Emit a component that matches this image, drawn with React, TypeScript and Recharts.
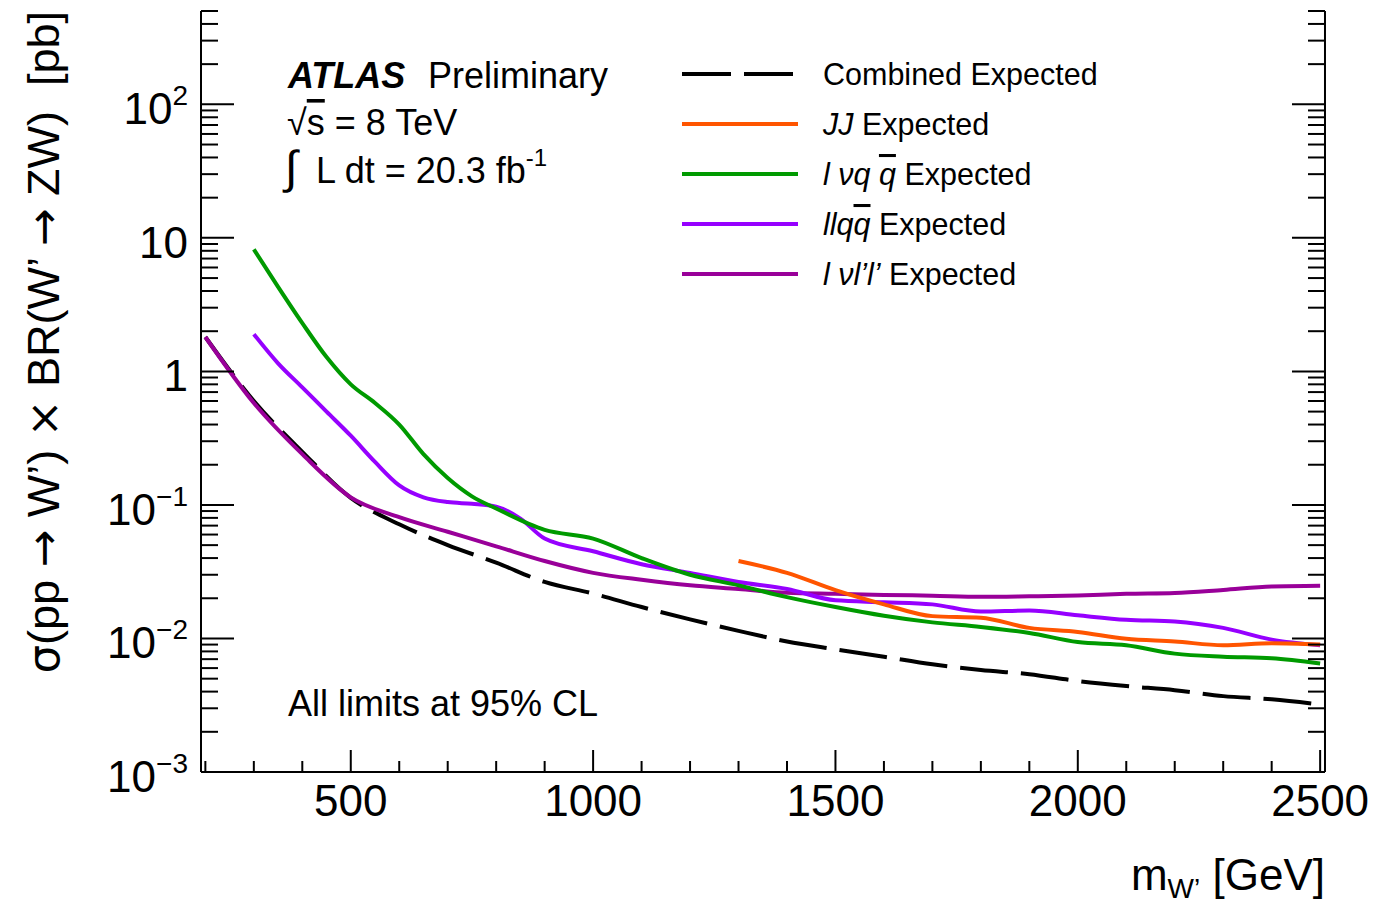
import { LineChart, Line, XAxis, YAxis } from "recharts";

// expected 95% CL limits on sigma x BR [pb] vs W' mass [GeV]
const massCombined = [200, 300, 400, 500, 600, 700, 800, 900, 1000, 1100, 1200, 1300, 1400, 1500, 1600, 1700, 1800, 1900, 2000, 2100, 2200, 2300, 2400, 2500];
const combinedExpected = [1.81, 0.6, 0.25, 0.113, 0.0716, 0.05, 0.037, 0.0265, 0.0217, 0.0172, 0.0139, 0.0114, 0.0095, 0.0083, 0.0073, 0.0064, 0.0058, 0.0054, 0.0048, 0.0044, 0.0041, 0.0037, 0.0035, 0.0032];

const massJJ = [1300, 1400, 1500, 1600, 1700, 1800, 1900, 2000, 2100, 2200, 2300, 2400, 2500];
const jjExpected = [0.038, 0.031, 0.023, 0.018, 0.0147, 0.0143, 0.012, 0.0112, 0.00995, 0.0095, 0.0089, 0.0092, 0.009];

const massLvqq = [300, 350, 400, 450, 500, 550, 600, 650, 700, 750, 800, 900, 1000, 1100, 1200, 1300, 1400, 1500, 1600, 1700, 1800, 1900, 2000, 2100, 2200, 2300, 2400, 2500];
const lvqqExpected = [8.2, 4.3, 2.3, 1.28, 0.8, 0.58, 0.4, 0.24, 0.159, 0.116, 0.094, 0.065, 0.056, 0.04, 0.03, 0.025, 0.0204, 0.0172, 0.0148, 0.0132, 0.0122, 0.011, 0.0094, 0.0089, 0.0077, 0.0073, 0.0071, 0.0065];

const massLlqq = [300, 350, 400, 450, 500, 550, 600, 650, 700, 750, 800, 850, 900, 1000, 1100, 1200, 1300, 1400, 1500, 1600, 1700, 1800, 1900, 2000, 2100, 2200, 2300, 2400, 2500];
const llqqExpected = [1.9, 1.15, 0.76, 0.5, 0.33, 0.21, 0.14, 0.114, 0.105, 0.102, 0.097, 0.079, 0.056, 0.045, 0.036, 0.031, 0.0265, 0.0235, 0.0193, 0.0187, 0.018, 0.0159, 0.0162, 0.0149, 0.0138, 0.0134, 0.012, 0.0098, 0.0089];

const massLvll = [200, 300, 400, 500, 600, 700, 800, 900, 1000, 1100, 1200, 1300, 1400, 1500, 1600, 1700, 1800, 1900, 2000, 2100, 2200, 2300, 2400, 2500];
const lvllExpected = [1.81, 0.58, 0.24, 0.114, 0.081, 0.063, 0.049, 0.038, 0.031, 0.0275, 0.025, 0.0235, 0.022, 0.0216, 0.0212, 0.0209, 0.0205, 0.0207, 0.021, 0.0216, 0.0219, 0.0231, 0.0245, 0.0248];

const xMajorTicks = [500, 1000, 1500, 2000, 2500];
const xTicks = [200, 300, 400, 500, 600, 700, 800, 900, 1000, 1100, 1200, 1300, 1400, 1500, 1600, 1700, 1800, 1900, 2000, 2100, 2200, 2300, 2400, 2500];

const yMajorTicks = [0.001, 0.01, 0.1, 1, 10, 100];
const yTickBase = ["10", "10", "10", "1", "10", "10"];
const yTickExp = ["\u22123", "\u22122", "\u22121", "", "", "2"];

const X_DOMAIN: [number, number] = [191, 2510];
const Y_DOMAIN: [number, number] = [0.001, 500];

// minor ticks 2..9 in every decade, up to the top of the frame
const yTicks: number[] = [];
yMajorTicks.forEach((d) => {
  for (let k = 1; k <= 9; k++) {
    const v = +(d * k).toPrecision(6);
    if (v <= Y_DOMAIN[1]) yTicks.push(v);
  }
});

const toPoints = (ms: number[], vs: number[]) => ms.map((m, i) => ({ m, v: vs[i] }));

const series = [
  { name: "combined", data: toPoints(massCombined, combinedExpected), color: "#000000", dash: "48 13" },
  { name: "lvll", data: toPoints(massLvll, lvllExpected), color: "#990099" },
  { name: "llqq", data: toPoints(massLlqq, llqqExpected), color: "#9600ff" },
  { name: "lvqq", data: toPoints(massLvqq, lvqqExpected), color: "#009a00" },
  { name: "jj", data: toPoints(massJJ, jjExpected), color: "#ff5500" },
];

const FONT = "'Liberation Sans', Arial, Helvetica, sans-serif";
const SYM = "'DejaVu Sans', sans-serif";

const majorIndex = (v: number) => yMajorTicks.findIndex((m) => Math.abs(m - v) / m < 1e-6);

function LeftTick(props: any) {
  const { x, y, payload } = props;
  const i = majorIndex(payload.value);
  const major = i >= 0;
  return (
    <g>
      <line x1={x} x2={x + (major ? 33 : 17)} y1={y} y2={y} stroke="#000" strokeWidth={2} />
      {major && (
        <text x={x - 13} y={y + 20} textAnchor="end" fontSize={44} fill="#000">
          {yTickBase[i]}
          {yTickExp[i] && (
            <tspan dy={-19} fontSize={28}>
              {yTickExp[i]}
            </tspan>
          )}
        </text>
      )}
    </g>
  );
}

function RightTick(props: any) {
  const { x, y, payload } = props;
  const major = majorIndex(payload.value) >= 0;
  return <line x1={x} x2={x - (major ? 33 : 17)} y1={y} y2={y} stroke="#000" strokeWidth={2} />;
}

function BottomTick(props: any) {
  const { x, y, payload } = props;
  const major = xMajorTicks.includes(payload.value);
  return (
    <g>
      <line x1={x} x2={x} y1={y} y2={y - (major ? 22 : 11)} stroke="#000" strokeWidth={2} />
      {major && (
        <text x={x} y={y + 44} textAnchor="middle" fontSize={44} fill="#000">
          {payload.value}
        </text>
      )}
    </g>
  );
}

function TopTick(props: any) {
  const { x, y, payload } = props;
  const major = xMajorTicks.includes(payload.value);
  return <line x1={x} x2={x} y1={y} y2={y + (major ? 22 : 11)} stroke="#000" strokeWidth={2} />;
}

const legendRows = [
  { y: 74, color: "#000000", dash: "49 13" },
  { y: 124, color: "#ff5500" },
  { y: 174, color: "#009a00" },
  { y: 224, color: "#9600ff" },
  { y: 274, color: "#990099" },
];

const ob = { textDecoration: "overline" } as const;

function Overlay() {
  return (
    <svg width={1376} height={903} style={{ position: "absolute", left: 0, top: 0, pointerEvents: "none", fontFamily: FONT }}>
      {/* ATLAS label block */}
      <text x={288} y={88} fontSize={36} fontWeight="bold" fontStyle="italic">ATLAS</text>
      <text x={428} y={88} fontSize={36}>Preliminary</text>
      <text x={287} y={135} fontSize={36}>
        {"\u221A"}
        <tspan style={ob}>s</tspan> = 8 TeV
      </text>
      <text x={285} y={183} fontSize={46}>{"\u222B"}</text>
      <text x={316} y={183} fontSize={36}>
        L dt = 20.3 fb<tspan dy={-17} fontSize={24}>-1</tspan>
      </text>
      <text x={288} y={716} fontSize={36}>All limits at 95% CL</text>

      {/* legend */}
      {legendRows.map((r) => (
        <line key={r.y} x1={682} x2={798} y1={r.y} y2={r.y} stroke={r.color} strokeWidth={4} strokeDasharray={r.dash} />
      ))}
      <g fontSize={30.5}>
        <text x={823} y={85}>Combined Expected</text>
        <text x={823} y={135}>
          <tspan fontStyle="italic">JJ</tspan> Expected
        </text>
        <text x={823} y={185} style={{ whiteSpace: "pre" }}>
          <tspan fontStyle="italic">{"l \u03BDq "}</tspan>
          <tspan fontStyle="italic" style={ob}>q</tspan> Expected
        </text>
        <text x={823} y={235}>
          <tspan fontStyle="italic">llq</tspan>
          <tspan fontStyle="italic" style={ob}>q</tspan> Expected
        </text>
        <text x={823} y={285} style={{ whiteSpace: "pre" }}>
          <tspan fontStyle="italic">{"l \u03BDl\u2019l\u2019"}</tspan> Expected
        </text>
      </g>

      {/* axis titles */}
      <text x={1325} y={890} textAnchor="end" fontSize={44}>
        m<tspan fontSize={28} dy={8}>W{"\u2019"}</tspan>
        <tspan dy={-8}> [GeV]</tspan>
      </text>
      <text
        transform="translate(59,11) rotate(-90)"
        textAnchor="end"
        fontSize={45}
        style={{ whiteSpace: "pre" }}
      >
        <tspan fontFamily={SYM}>{"\u03C3"}</tspan>
        {"(pp "}
        <tspan fontFamily={SYM}>{"\u2192"}</tspan>
        {" W\u2019) "}
        <tspan fontFamily={SYM}>{"\u00D7"}</tspan>
        {" BR(W\u2019 "}
        <tspan fontFamily={SYM}>{"\u2192"}</tspan>
        {" ZW)  [pb]"}
      </text>
    </svg>
  );
}

export default function App() {
  return (
    <div style={{ position: "absolute", left: 0, top: 0, width: 1376, height: 903, background: "#fff", fontFamily: FONT }}>
      <LineChart width={1376} height={903} margin={{ top: 11, right: 51, bottom: 51, left: 101 }}>
        <XAxis
          xAxisId="b"
          dataKey="m"
          type="number"
          domain={X_DOMAIN}
          allowDataOverflow
          ticks={xTicks}
          interval={0}
          height={80}
          tickSize={0}
          tickMargin={0}
          tickLine={false}
          axisLine={{ stroke: "#000", strokeWidth: 2 }}
          tick={<BottomTick />}
        />
        <XAxis
          xAxisId="t"
          orientation="top"
          dataKey="m"
          type="number"
          domain={X_DOMAIN}
          allowDataOverflow
          ticks={xTicks}
          interval={0}
          height={0}
          tickSize={0}
          tickMargin={0}
          tickLine={false}
          axisLine={{ stroke: "#000", strokeWidth: 2 }}
          tick={<TopTick />}
        />
        <YAxis
          yAxisId="l"
          dataKey="v"
          type="number"
          scale="log"
          domain={Y_DOMAIN}
          allowDataOverflow
          ticks={yTicks}
          interval={0}
          width={100}
          tickSize={0}
          tickMargin={0}
          tickLine={false}
          axisLine={{ stroke: "#000", strokeWidth: 2 }}
          tick={<LeftTick />}
        />
        <YAxis
          yAxisId="r"
          orientation="right"
          dataKey="v"
          type="number"
          scale="log"
          domain={Y_DOMAIN}
          allowDataOverflow
          ticks={yTicks}
          interval={0}
          width={0.01}
          tickSize={0}
          tickMargin={0}
          tickLine={false}
          axisLine={{ stroke: "#000", strokeWidth: 2 }}
          tick={<RightTick />}
        />
        {series.map((s) => (
          <Line
            key={s.name}
            xAxisId="b"
            yAxisId="l"
            data={s.data}
            dataKey="v"
            type="monotone"
            stroke={s.color}
            strokeWidth={4}
            strokeDasharray={s.dash}
            dot={false}
            activeDot={false}
            isAnimationActive={false}
          />
        ))}
        {/* invisible copy bound to the mirrored right axis so that its frame and ticks get drawn */}
        <Line
          xAxisId="t"
          yAxisId="r"
          data={series[0].data}
          dataKey="v"
          stroke="none"
          dot={false}
          activeDot={false}
          legendType="none"
          isAnimationActive={false}
        />
      </LineChart>
      <Overlay />
    </div>
  );
}
